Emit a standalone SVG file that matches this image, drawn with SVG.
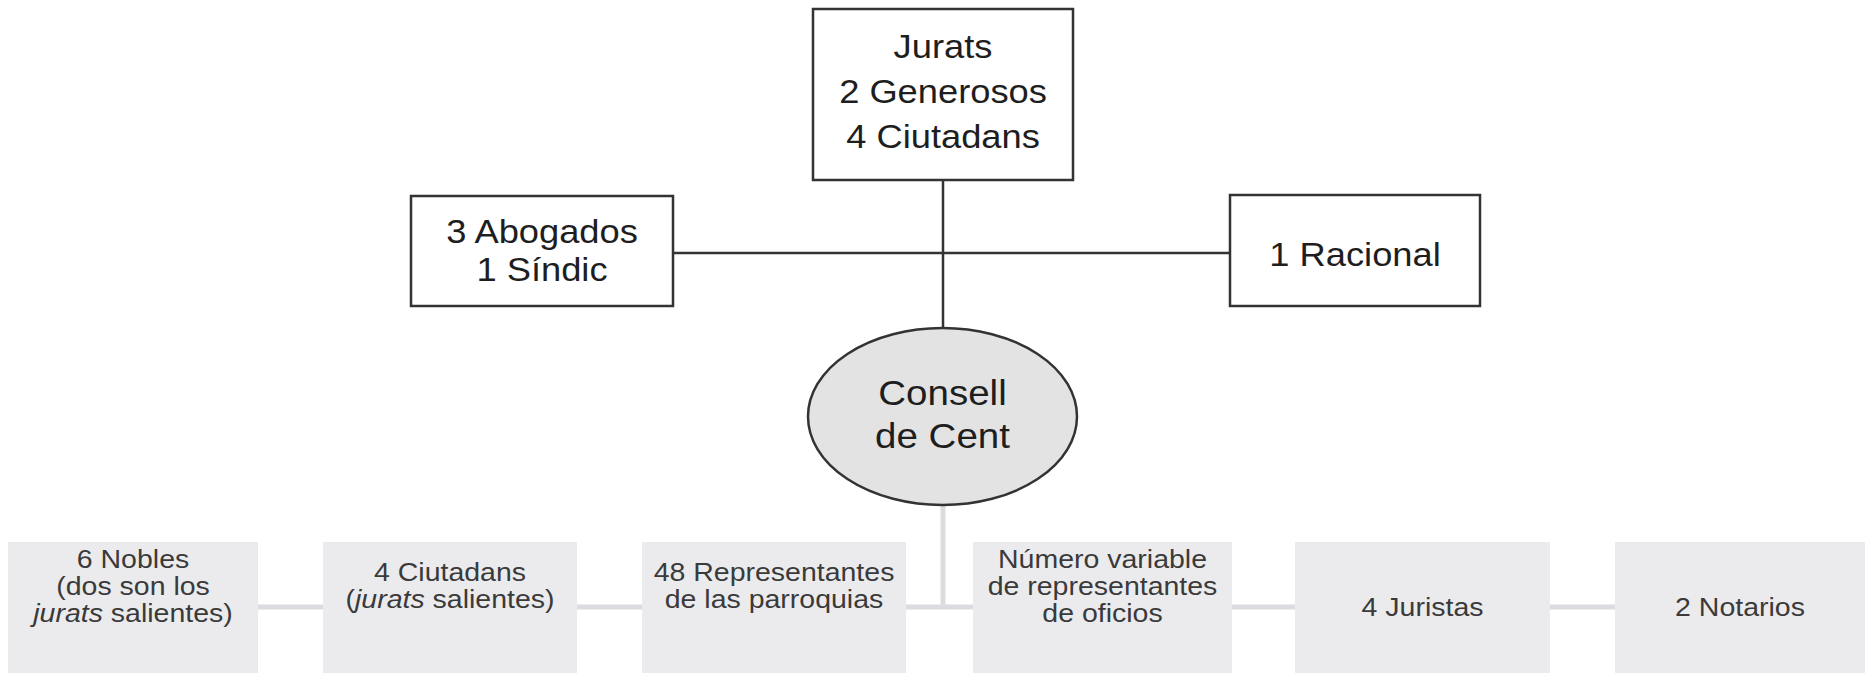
<svg xmlns="http://www.w3.org/2000/svg" width="1865" height="680" viewBox="0 0 1865 680">
<style>
.box{fill:#ffffff;stroke:#333333;stroke-width:2.5}
.ell{fill:#e3e3e3;stroke:#333333;stroke-width:2.5}
.gbox{fill:#ebebee;stroke:none}
.dk{stroke:#333333;stroke-width:2.5;fill:none}
.lt{stroke:#dcdce0;stroke-width:5;fill:none}
text{font-family:"Liberation Sans",Arial,Helvetica,sans-serif;text-anchor:middle}
.t1{font-size:33px;fill:#1e1e1e}
.t2{font-size:25px;fill:#3a3a3a}
.it{font-style:italic}
</style>
<rect width="1865" height="680" fill="#ffffff"/>
<g id="connectors">
<line class="dk" x1="943" y1="180" x2="943" y2="328"/>
<line class="dk" x1="673" y1="253" x2="1230" y2="253"/>
<line class="lt" x1="943" y1="505" x2="943" y2="607"/>
<line class="lt" x1="8" y1="607" x2="1860" y2="607"/>
</g>
<g id="jurats">
<rect class="box" x="813" y="9" width="260" height="171"/>
<g transform="translate(943 0) scale(1.1 1)">
<text class="t1" x="0" y="58">Jurats</text>
<text class="t1" x="0" y="103">2 Generosos</text>
<text class="t1" x="0" y="148">4 Ciutadans</text>
</g>
</g>
<g id="abogados">
<rect class="box" x="411" y="196" width="262" height="110"/>
<g transform="translate(542 0) scale(1.1 1)">
<text class="t1" x="0" y="243">3 Abogados</text>
<text class="t1" x="0" y="281">1 Síndic</text>
</g>
</g>
<g id="racional">
<rect class="box" x="1230" y="195" width="250" height="111"/>
<g transform="translate(1355 0) scale(1.1 1)">
<text class="t1" x="0" y="266">1 Racional</text>
</g>
</g>
<g id="consell">
<ellipse class="ell" cx="942.5" cy="416.5" rx="134.5" ry="88.5"/>
<g transform="translate(942.5 0) scale(1.1 1)">
<text class="t1" x="0" y="405" style="font-size:35px">Consell</text>
<text class="t1" x="0" y="448" style="font-size:35px">de Cent</text>
</g>
</g>
<g id="nobles">
<rect class="gbox" x="8" y="542" width="250" height="131"/>
<g transform="translate(133 0) scale(1.14 1)">
<text class="t2" x="0" y="568">6 Nobles</text>
<text class="t2" x="0" y="595">(dos son los</text>
<text class="t2" x="0" y="622"><tspan class="it">jurats</tspan> salientes)</text>
</g>
</g>
<g id="ciutadans">
<rect class="gbox" x="323" y="542" width="254" height="131"/>
<g transform="translate(450 0) scale(1.14 1)">
<text class="t2" x="0" y="581">4 Ciutadans</text>
<text class="t2" x="0" y="608">(<tspan class="it">jurats</tspan> salientes)</text>
</g>
</g>
<g id="parroquias">
<rect class="gbox" x="642" y="542" width="264" height="131"/>
<g transform="translate(774 0) scale(1.14 1)">
<text class="t2" x="0" y="581">48 Representantes</text>
<text class="t2" x="0" y="608">de las parroquias</text>
</g>
</g>
<g id="oficios">
<rect class="gbox" x="973" y="542" width="259" height="131"/>
<g transform="translate(1102.5 0) scale(1.14 1)">
<text class="t2" x="0" y="568">Número variable</text>
<text class="t2" x="0" y="595">de representantes</text>
<text class="t2" x="0" y="622">de oficios</text>
</g>
</g>
<g id="juristas">
<rect class="gbox" x="1295" y="542" width="255" height="131"/>
<g transform="translate(1422.5 0) scale(1.14 1)">
<text class="t2" x="0" y="616">4 Juristas</text>
</g>
</g>
<g id="notarios">
<rect class="gbox" x="1615" y="542" width="250" height="131"/>
<g transform="translate(1740 0) scale(1.14 1)">
<text class="t2" x="0" y="616">2 Notarios</text>
</g>
</g>
</svg>
